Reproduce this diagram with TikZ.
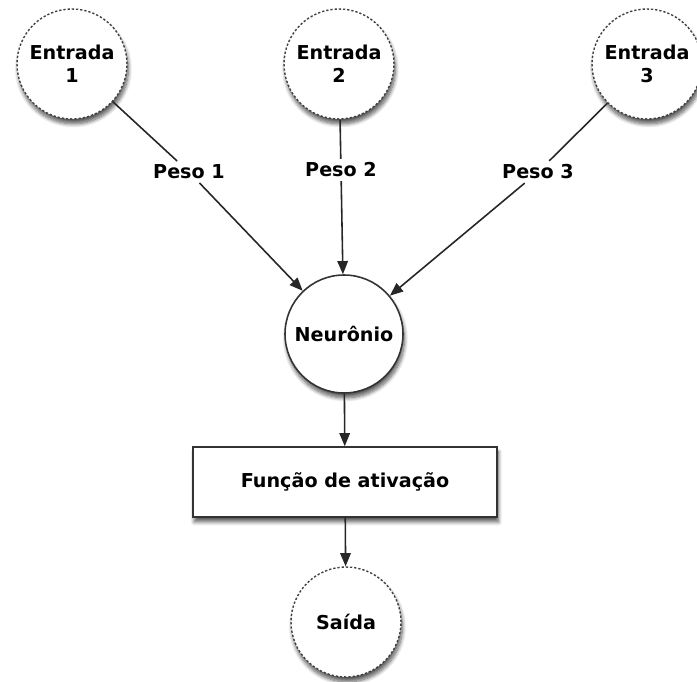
\documentclass[tikz,border=0pt]{standalone}
\usepackage{fontspec}
\setmainfont{DejaVu Sans}
\usetikzlibrary{arrows.meta,shadows.blur}

\tikzset{
  sombra/.style={blur shadow={shadow xshift=0.8pt, shadow yshift=-2.8pt, shadow blur steps=8, shadow opacity=65}},
  entrada/.style={circle, draw=black!75, line width=0.8pt, dash pattern=on 1.3pt off 1.1pt,
    fill=white, minimum size=2.2cm, inner sep=0pt, align=center, sombra},
  neuronio/.style={circle, draw=black!80, line width=0.9pt, fill=white, minimum size=2.36cm,
    inner sep=0pt, sombra},
  caixa/.style={rectangle, draw=black!80, line width=0.9pt, fill=white, minimum width=6.08cm,
    minimum height=1.4cm, sombra},
  peso/.style={fill=white, inner sep=2pt}
}

\begin{document}
\begin{tikzpicture}[x=0.02cm, y=-0.02cm, font=\fontsize{10.9}{13}\selectfont\bfseries,
    >={Triangle[length=7.5pt,width=6pt]}]
    \useasboundingbox (0,0) rectangle (697,682); % margins
    \node[entrada] (entrada1) at (72,64) {Entrada\\1}; % input 1
    \node[entrada] (entrada2) at (339,64) {Entrada\\2}; % input 2
    \node[entrada] (entrada3) at (647,64) {Entrada\\3}; % input 3
    \node[neuronio] (neuronio) at (344,334) {Neurônio}; % neuron
    \node[caixa] (ativacao) at (345,482) {Função de ativação}; % activation
    \node[entrada] (saida) at (346,622) {Saída}; % output
    \node[peso] (peso1) at (189,172) {Peso 1}; % weight 1
    \node[peso] (peso2) at (341,170) {Peso 2}; % weight 2
    \node[peso] (peso3) at (538,172) {Peso 3}; % weight 3
    \draw[line width=0.9pt, black!85] (entrada1) -- (peso1); % edge 1
    \draw[line width=0.9pt, black!85] (entrada2) -- (peso2); % edge 2
    \draw[line width=0.9pt, black!85] (entrada3) -- (peso3); % edge 3
    \draw[line width=0.9pt, black!85][->] (peso1) -- (neuronio); % weighted 1
    \draw[line width=0.9pt, black!85][->] (peso2) -- (neuronio); % weighted 2
    \draw[line width=0.9pt, black!85][->] (peso3) -- (neuronio); % weighted 3
    \draw[line width=0.9pt, black!85][->] (neuronio) -- (ativacao); % sum
    \draw[line width=0.9pt, black!85][->] (ativacao) -- (saida); % output
  \end{tikzpicture}
\end{document}
